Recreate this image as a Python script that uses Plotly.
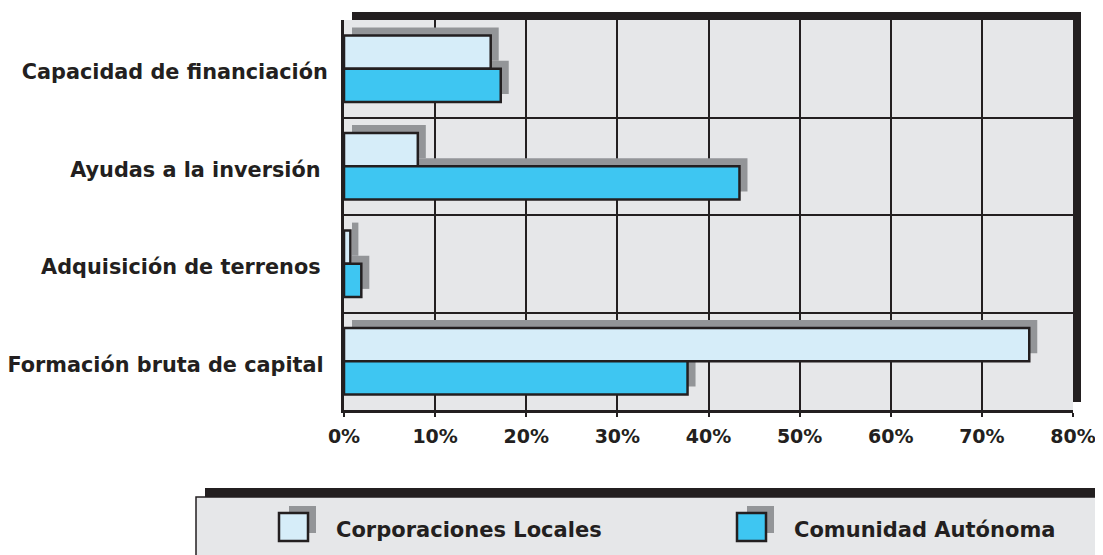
import plotly.graph_objects as go

# data (percent of each group's total)
categories = [
    "Capacidad de financiación",
    "Ayudas a la inversión\u00a0",
    "Adquisición de terrenos\u00a0",
    "Formación bruta de capital\u2009",
]
corporaciones_locales = [16.1, 8.1, 0.7, 75.2]
comunidad_autonoma = [17.2, 43.4, 1.9, 37.7]
x_ticks = [0, 10, 20, 30, 40, 50, 60, 70, 80]
x_tick_labels = [f"{t}%" for t in x_ticks]

series_names = ["Corporaciones Locales", "Comunidad Autónoma"]
series_colors = ["#d6edf9", "#3ec6f2"]

INK = "#231f20"
SHADOW = "#939598"
PANEL = "#e6e7e9"
FONT = "DejaVu Sans"

PAGE = 8  # the html body margin shifts the figure by this much
W, H = 1103 - PAGE, 555 - PAGE
# plot area in figure pixels (panel + its drop shadow)
ML, MT = 336, 4
PW = 1073 - ML
PH = 402 - MT
MR = W - ML - PW
MB = H - MT - PH
SHIFT = 8  # drop shadow offset in pixels (right and up)


def px(x):
    # screen x -> paper
    return (x - PAGE - ML) / PW


def py(y):
    # screen y -> paper
    return (MT + PH - (y - PAGE)) / PH


main_x = [0, (PW - SHIFT) / PW]
main_y = [0, (PH - SHIFT) / PH]
shadow_x = [SHIFT / PW, 1]
shadow_y = [SHIFT / PH, 1]

fig = go.Figure()

# invisible bars on the base subplot so its category axis is populated
for vals in (corporaciones_locales, comunidad_autonoma):
    fig.add_trace(go.Bar(
        x=vals, y=categories, orientation="h", xaxis="x", yaxis="y",
        marker=dict(color="rgba(0,0,0,0)", line=dict(width=0)),
        hoverinfo="skip", showlegend=False,
    ))

# shadows, drawn on a subplot shifted up-right
for vals in (corporaciones_locales, comunidad_autonoma):
    fig.add_trace(go.Bar(
        x=vals, y=categories, orientation="h", xaxis="x2", yaxis="y2",
        marker=dict(color=SHADOW, line=dict(width=0)),
        hoverinfo="skip", showlegend=False,
    ))

# the real bars
for name, vals, color in zip(series_names, [corporaciones_locales, comunidad_autonoma], series_colors):
    fig.add_trace(go.Bar(
        name=name, x=vals, y=categories, orientation="h", xaxis="x3", yaxis="y3",
        marker=dict(color=color, line=dict(color=INK, width=2.5)),
        hovertemplate="%{y}: %{x:.1f}%<extra>" + name + "</extra>",
        showlegend=False,
    ))

hidden_x = dict(range=[0, 80], visible=False, fixedrange=True, automargin=False)
hidden_y = dict(type="category", categoryorder="array", categoryarray=categories,
                autorange="reversed", visible=False, fixedrange=True, automargin=False)

fig.update_layout(
    width=W,
    height=H,
    margin=dict(l=ML, r=MR, t=MT, b=MB, pad=0),
    paper_bgcolor="white",
    plot_bgcolor="rgba(0,0,0,0)",
    barmode="group",
    bargap=0.32,
    bargroupgap=0,
    font=dict(family=FONT, color=INK),
    xaxis=dict(
        domain=main_x, anchor="y", range=[0, 80],
        tickvals=x_ticks, ticktext=x_tick_labels,
        showgrid=True, gridcolor=INK, gridwidth=1.5,
        showline=True, linecolor=INK, linewidth=2.5,
        ticks="outside", ticklen=4, tickcolor=INK, tickwidth=1.5,
        ticklabelstandoff=3,
        zeroline=False, automargin=False,
        tickfont=dict(family=FONT, size=19, weight="bold", color=INK),
        fixedrange=True,
    ),
    yaxis=dict(
        domain=main_y, anchor="x", type="category",
        categoryorder="array", categoryarray=categories, autorange="reversed",
        tickson="boundaries", showgrid=True, gridcolor=INK, gridwidth=1.5,
        showline=True, linecolor=INK, linewidth=3, ticks="",
        ticklabelstandoff=9, ticklabelshift=-3, automargin=False,
        tickfont=dict(family=FONT, size=20.8, weight="bold", color=INK),
        fixedrange=True,
    ),
    xaxis2=dict(domain=shadow_x, anchor="y2", **hidden_x),
    yaxis2=dict(domain=shadow_y, anchor="x2", **hidden_y),
    xaxis3=dict(domain=main_x, anchor="y3", **hidden_x),
    yaxis3=dict(domain=main_y, anchor="x3", **hidden_y),
)

shapes = []
# black drop shadow of the plot panel, then the grey panel itself
shapes.append(dict(type="rect", xref="paper", yref="paper", layer="below",
                   x0=shadow_x[0], x1=shadow_x[1], y0=shadow_y[0], y1=shadow_y[1],
                   fillcolor=INK, line=dict(width=0)))
shapes.append(dict(type="rect", xref="paper", yref="paper", layer="below",
                   x0=main_x[0], x1=main_x[1], y0=main_y[0], y1=main_y[1],
                   fillcolor=PANEL, line=dict(width=0)))

# legend box with its own drop shadow
shapes.append(dict(type="rect", xref="paper", yref="paper", layer="below",
                   x0=px(205), x1=px(1125), y0=py(488), y1=py(580),
                   fillcolor=INK, line=dict(width=0)))
shapes.append(dict(type="rect", xref="paper", yref="paper", layer="below",
                   x0=px(196), x1=px(1125), y0=py(497), y1=py(580),
                   fillcolor=PANEL, line=dict(color=INK, width=1.5)))

annotations = []
legend_icon_left = [279, 737]
legend_text_left = [334, 792]
for name, color, ix, tx in zip(series_names, series_colors, legend_icon_left, legend_text_left):
    shapes.append(dict(type="rect", xref="paper", yref="paper",
                       x0=px(ix + 10), x1=px(ix + 37), y0=py(533), y1=py(506),
                       fillcolor=SHADOW, line=dict(width=0)))
    shapes.append(dict(type="rect", xref="paper", yref="paper",
                       x0=px(ix), x1=px(ix + 29), y0=py(541), y1=py(513),
                       fillcolor=color, line=dict(color=INK, width=2.5)))
    annotations.append(dict(xref="paper", yref="paper", x=px(tx), y=py(530),
                            xanchor="left", yanchor="middle", showarrow=False,
                            text=name,
                            font=dict(family=FONT, size=21, weight="bold", color=INK)))

fig.update_layout(shapes=shapes, annotations=annotations)

fig.write_html("out.html")
